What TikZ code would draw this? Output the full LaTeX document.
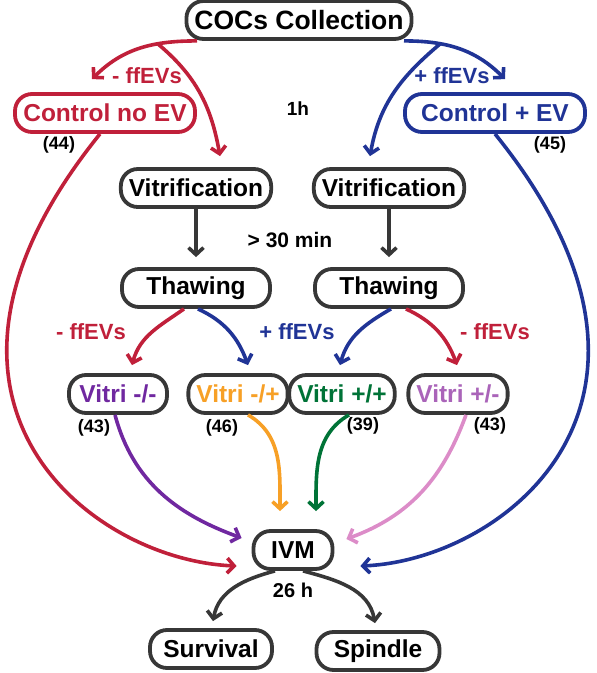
\documentclass[tikz,border=0pt]{standalone}
\usepackage{fontspec}
\setmainfont{Liberation Sans}
\usetikzlibrary{arrows.meta,positioning}
\definecolor{evred}{RGB}{192,32,58}
\definecolor{evblue}{RGB}{32,52,150}
\definecolor{vpurple}{RGB}{112,40,160}
\definecolor{vorange}{RGB}{247,160,38}
\definecolor{vgreen}{RGB}{0,115,55}
\definecolor{vlilac}{RGB}{170,100,185}
\definecolor{vpink}{RGB}{220,140,200}
\definecolor{boxgray}{RGB}{55,55,55}
\tikzstyle{flow} = [line width=3.6pt,->]
\begin{document}
\begin{tikzpicture}
		[
		x=1pt,y=1pt,
		>={Straight Barb[length=7pt,width=15pt]},
		block/.style={
		draw=boxgray,
		fill=white,
		rectangle,
		rounded corners=17pt,
		line width=3.8pt,
		minimum height=38pt,
		inner xsep=8pt,
		font=\fontsize{24.5pt}{27pt}\selectfont\bfseries},
		wideblock/.style={block,minimum width=148pt},
		lbl/.style={font=\fontsize{22pt}{25pt}\selectfont\bfseries},
		num/.style={font=\fontsize{18pt}{21pt}\selectfont\bfseries}
		]
		\useasboundingbox (0,0) rectangle (597,-673);
		% boxes
		\node[block,font=\fontsize{26.5pt}{29pt}\selectfont\bfseries](coc) at (299,-20) {COCs Collection};
		\node[block,draw=evred,text=evred,minimum width=180pt](cne) at (105,-113) {Control no EV};
		\node[block,draw=evblue,text=evblue,minimum width=180pt](cpe) at (495,-113) {Control + EV};
		\node[wideblock](vitl) at (196,-188) {Vitrification};
		\node[wideblock](vitr) at (389,-188) {Vitrification};
		\node[wideblock,below of=vitl,node distance=100pt](thawl) {Thawing};
		\node[wideblock,below of=vitr,node distance=100pt](thawr) {Thawing};
		\node[block,text=vpurple,minimum width=98pt](vmm) at (118,-394) {Vitri -/-};
		\node[block,text=vorange,minimum width=98pt](vmp) at (238,-394) {Vitri -/+};
		\node[block,text=vgreen,minimum width=97pt](vpp) at (342,-394) {Vitri +/+};
		\node[block,text=vlilac,minimum width=97pt](vpm) at (458,-394) {Vitri +/-};
		\node[block,minimum width=79pt](ivm) at (293,-550) {IVM};
		\node[block,minimum width=122pt](surv) at (211,-649) {Survival};
		\node[block,minimum width=123pt](spin) at (378,-651) {Spindle};
		% labels
		\node[lbl,text=evred](topminus) at (147,-76) {- ffEVs};
		\node[lbl,text=evblue](topplus) at (452,-76) {+ ffEVs};
		\node[lbl,font=\fontsize{19pt}{22pt}\selectfont\bfseries](onehour) at (298,-109) {1h};
		\node[lbl,font=\fontsize{21pt}{24pt}\selectfont\bfseries](thirtymin) at (290,-240) {> 30 min};
		\node[lbl,text=evred](midminusl) at (91,-332) {- ffEVs};
		\node[lbl,text=evblue](midplus) at (297,-332) {+ ffEVs};
		\node[lbl,text=evred](midminusr) at (495,-332) {- ffEVs};
		\node[lbl,font=\fontsize{20pt}{23pt}\selectfont\bfseries](twentysix) at (293,-590) {26 h};
		\node[num](n44) at (59,-145) {(44)};
		\node[num](n45) at (550,-145) {(45)};
		\node[num](n43l) at (94,-428) {(43)};
		\node[num](n46) at (222,-428) {(46)};
		\node[num](n39) at (363,-426) {(39)};
		\node[num](n43r) at (490,-426) {(43)};
		\coordinate (splitl) at (158,-44);
		\coordinate (splitr) at (440,-44);
		% top split
		\draw[flow,evred] ([xshift=-102pt]coc.south) to[out=180,in=45] ([xshift=-13pt,yshift=13pt]cne.north);
		\draw[flow,evred] (splitl) to[out=-40,in=100] ([xshift=24pt,yshift=11pt]vitl.north);
		\draw[flow,evblue] ([xshift=105pt]coc.south) to[out=0,in=135] ([xshift=10pt,yshift=13pt]cpe.north);
		\draw[flow,evblue] (splitr) to[out=220,in=80] ([xshift=-19pt,yshift=11pt]vitr.north);
		% vitrification to thawing
		\draw[flow,boxgray,shorten >=10pt] (vitl) -- (thawl);
		\draw[flow,boxgray,shorten >=10pt] (vitr) -- (thawr);
		% thawing split
		\draw[flow,evred] ([xshift=-12pt]thawl.south) to[out=215,in=75] ([xshift=14pt,yshift=8pt]vmm.north);
		\draw[flow,evblue] ([xshift=2pt]thawl.south) to[out=-25,in=110] ([xshift=10pt,yshift=8pt]vmp.north);
		\draw[flow,evblue] ([xshift=2pt]thawr.south) to[out=210,in=75] ([xshift=-2pt,yshift=8pt]vpp.north);
		\draw[flow,evred] ([xshift=17pt]thawr.south) to[out=-25,in=110] ([xshift=-1pt,yshift=8pt]vpm.north);
		% into IVM
		\draw[flow,vpurple] ([xshift=-3pt]vmm.south) to[out=-75,in=160] ([xshift=-10pt,yshift=12pt]ivm.west);
		\draw[flow,vorange] ([xshift=10pt]vmp.south) to[out=-30,in=90] ([xshift=-13pt,yshift=18pt]ivm.north);
		\draw[flow,vgreen] ([xshift=7pt]vpp.south) to[out=210,in=90] ([xshift=23pt,yshift=18pt]ivm.north);
		\draw[flow,vpink] ([xshift=8pt]vpm.south) to[out=-110,in=20] ([xshift=12pt,yshift=11pt]ivm.east);
		\draw[flow,evred] ([xshift=-5pt]cne.south) .. controls (-115,-400) and (90,-560) .. ([xshift=-15pt,yshift=-16pt]ivm.west);
		\draw[flow,evblue] (cpe.south) .. controls (710,-400) and (505,-560) .. ([xshift=26pt,yshift=-16pt]ivm.east);
		% outcome
		\draw[flow,boxgray] ([xshift=-18pt]ivm.south) to[out=195,in=80] ([xshift=2pt,yshift=7pt]surv.north);
		\draw[flow,boxgray] ([xshift=10pt]ivm.south) to[out=-15,in=100] ([xshift=-3pt,yshift=7pt]spin.north);
		\end{tikzpicture}
\end{document}
